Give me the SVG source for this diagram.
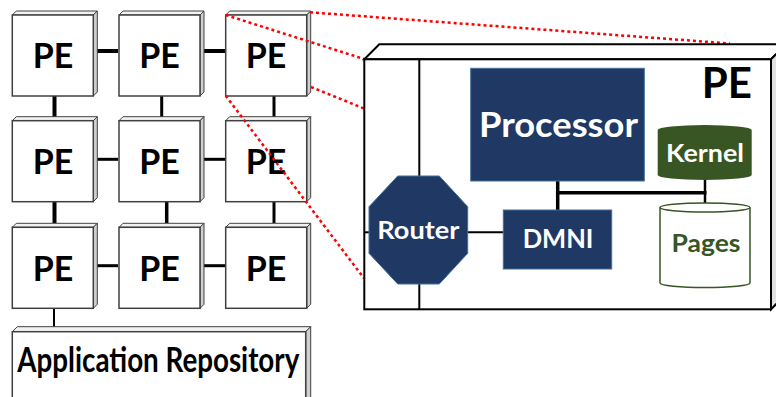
<svg xmlns="http://www.w3.org/2000/svg" width="776" height="397" viewBox="0 0 776 397">
<style>
.front{fill:#fff;stroke:#404040;stroke-width:1.5}
.top{fill:#f2f2f2;stroke:#404040;stroke-width:1}
.side{fill:#d0d0d0;stroke:#404040;stroke-width:1}
.pe{font-family:Lato,"Liberation Sans",sans-serif;font-weight:bold;font-size:34px;fill:#000;text-anchor:middle}
.lbl{font-family:Lato,"Liberation Sans",sans-serif;font-weight:bold;fill:#fff;text-anchor:middle}
.c{stroke:#000;fill:none}
.red{stroke:#ff0000;stroke-width:2.5;stroke-dasharray:3 3;fill:none}
.navy{fill:#203864;stroke:#41719c;stroke-width:1}
</style>
<defs>
<g id="cube">
<polygon class="top" points="0,0 4,-4 85,-4 81,0"/>
<polygon class="side" points="81,0 85,-4 85,77 81,81"/>
<rect class="front" x="0" y="0" width="81" height="81"/>
</g>
</defs>
<g id="connectors">
<line class="c" stroke-width="4" x1="97" y1="51" x2="118" y2="51"/>
<line class="c" stroke-width="4" x1="204" y1="51" x2="226" y2="51"/>
<line class="c" stroke-width="3" x1="97" y1="159.3" x2="118" y2="159.3"/>
<line class="c" stroke-width="3" x1="204" y1="159.3" x2="226" y2="159.3"/>
<line class="c" stroke-width="3" x1="97" y1="265.7" x2="118" y2="265.7"/>
<line class="c" stroke-width="3" x1="204" y1="265.7" x2="226" y2="265.7"/>
<line class="c" stroke-width="4" x1="54.5" y1="96" x2="54.5" y2="117"/>
<line class="c" stroke-width="3" x1="161.7" y1="96" x2="161.7" y2="117"/>
<line class="c" stroke-width="3" x1="274" y1="96" x2="274" y2="117"/>
<line class="c" stroke-width="4" x1="54.5" y1="202" x2="54.5" y2="223"/>
<line class="c" stroke-width="3.5" x1="166.7" y1="202" x2="166.7" y2="223"/>
<line class="c" stroke-width="3" x1="274" y1="202" x2="274" y2="223"/>
<line class="c" stroke-width="2" x1="54" y1="308" x2="54" y2="328"/>
</g>
<g id="pe-grid">
<g id="pe11"><use href="#cube" x="12.3" y="15"/><text class="pe" x="53" y="68">PE</text></g>
<g id="pe12"><use href="#cube" x="119" y="15"/><text class="pe" x="159.5" y="68">PE</text></g>
<g id="pe13"><use href="#cube" x="225.7" y="15"/><text class="pe" x="266" y="68">PE</text></g>
<g id="pe21"><use href="#cube" x="12.3" y="120.7"/><text class="pe" x="53" y="174">PE</text></g>
<g id="pe22"><use href="#cube" x="119" y="120.7"/><text class="pe" x="159.5" y="174">PE</text></g>
<g id="pe23"><use href="#cube" x="225.7" y="120.7"/><text class="pe" x="266" y="174">PE</text></g>
<g id="pe31"><use href="#cube" x="12.3" y="227.3"/><text class="pe" x="53" y="281">PE</text></g>
<g id="pe32"><use href="#cube" x="119" y="227.3"/><text class="pe" x="159.5" y="281">PE</text></g>
<g id="pe33"><use href="#cube" x="225.7" y="227.3"/><text class="pe" x="266" y="281">PE</text></g>
</g>
<g id="app-repo">
<polygon class="top" points="12.3,331.7 17.3,326.7 310.7,326.7 305.7,331.7"/>
<polygon class="side" points="305.7,331.7 310.7,326.7 310.7,400 305.7,400"/>
<rect class="front" x="12.3" y="331.7" width="293.4" height="70"/>
<text class="pe" x="158.3" y="372" font-size="25" textLength="282" lengthAdjust="spacingAndGlyphs">Application Repository</text>
</g>
<g id="zoom-lines">
<line class="red" x1="225.7" y1="15" x2="364" y2="59"/>
<line class="red" x1="310" y1="12.3" x2="730" y2="43.5"/>
<line class="red" x1="311" y1="87" x2="364" y2="108.5"/>
<line class="red" x1="225.7" y1="95.7" x2="364" y2="278.3"/>
</g>
<g id="pe-detail">
<polygon points="364.3,59.3 379.3,44.3 786,44.3 771,59.3" fill="#fff" stroke="#000" stroke-width="2"/>
<polygon points="771,59.3 786,44.3 786,294 771,309.3" fill="#e0e0e0" stroke="#000" stroke-width="2"/>
<rect x="364.3" y="59.3" width="406.7" height="250" fill="#fff" stroke="#000" stroke-width="2"/>
<text x="752" y="98.3" font-family="Lato,'Liberation Sans',sans-serif" font-weight="bold" font-size="42" text-anchor="end">PE</text>
</g>
<g id="detail-connectors">
<line class="c" stroke-width="2" x1="419.3" y1="59.3" x2="419.3" y2="309"/>
<line class="c" stroke-width="2" x1="364.3" y1="232.3" x2="372" y2="232.3"/>
<line class="c" stroke-width="2" x1="465" y1="232.3" x2="504" y2="232.3"/>
<line class="c" stroke-width="3.5" x1="557.7" y1="181" x2="557.7" y2="210"/>
<line class="c" stroke-width="3.5" x1="556" y1="192.7" x2="706.5" y2="192.7"/>
<line class="c" stroke-width="2.5" x1="705" y1="178" x2="705" y2="204"/>
</g>
<g id="processor">
<rect class="navy" x="470.7" y="68.3" width="173.6" height="112.7"/>
<text class="lbl" x="558.5" y="136.7" font-size="35" textLength="159" lengthAdjust="spacingAndGlyphs">Processor</text>
</g>
<g id="kernel">
<path d="M657.7,130 A47,5 0 0 1 751.7,130 V175 A47,5 0 0 1 657.7,175 Z" fill="#375623"/>
<text class="lbl" x="705" y="161.5" font-size="25" textLength="78" lengthAdjust="spacingAndGlyphs">Kernel</text>
</g>
<g id="pages">
<path d="M660,207.5 A45,4.5 0 0 1 750,207.5 V283 A45,4.5 0 0 1 660,283 Z" fill="#fff" stroke="#375623" stroke-width="1.5"/>
<path d="M660,207.5 A45,4.5 0 0 0 750,207.5" fill="none" stroke="#375623" stroke-width="1.5"/>
<text x="706" y="252" font-family="Lato,'Liberation Sans',sans-serif" font-weight="bold" font-size="24" fill="#375623" text-anchor="middle" textLength="69" lengthAdjust="spacingAndGlyphs">Pages</text>
</g>
<g id="router">
<polygon class="navy" points="397.7,176 439.3,176 467.7,206.7 467.7,253.3 439.3,284 397.7,284 369,253.3 369,206.7"/>
<text class="lbl" x="418.3" y="238.5" font-size="24" textLength="82" lengthAdjust="spacingAndGlyphs">Router</text>
</g>
<g id="dmni">
<rect class="navy" x="503.3" y="210" width="108.4" height="59"/>
<text class="lbl" x="558" y="248" font-size="26" textLength="70.7" lengthAdjust="spacingAndGlyphs">DMNI</text>
</g>
</svg>
